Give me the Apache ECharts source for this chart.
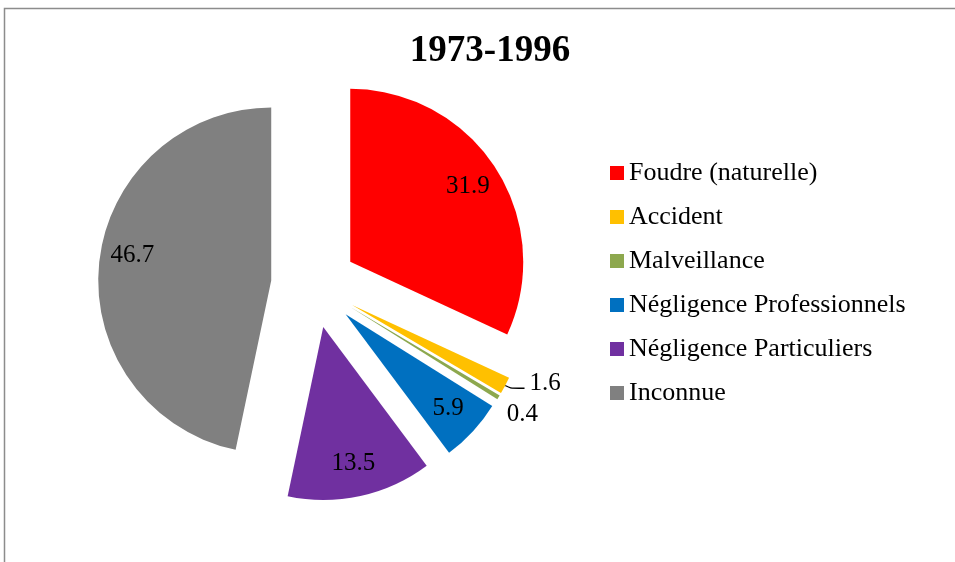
<!DOCTYPE html>
<html><head><meta charset="utf-8">
<script src="https://cdn.jsdelivr.net/npm/echarts@6/dist/echarts.min.js"></script>
<style>html,body{margin:0;padding:0;background:#fff}#c{width:955px;height:562px}</style>
</head><body><div id="c"></div>
<script>
const titleText = '1973-1996';
const categories = ['Foudre (naturelle)', 'Accident', 'Malveillance', 'Négligence Professionnels', 'Négligence Particuliers', 'Inconnue'];
const values = [31.9, 1.6, 0.4, 5.9, 13.5, 46.7];
const colors = ['#FF0000', '#FFC000', '#8DA84E', '#0070C0', '#7030A0', '#808080'];
const outsideLabel = [false, true, true, false, false, false];
const showLine = [false, true, false, false, false, false];

const font = 'Liberation Serif, Times New Roman, serif';
const chart = echarts.init(document.getElementById('c'), null, {renderer: 'canvas'});

const center = [314, 285];
const R = 173;
const offset = 43;

const mainData = categories.map((n, i) => ({
  name: n, value: values[i], selected: true,
  itemStyle: {color: colors[i]}
}));
const labelData = categories.map((n, i) => ({
  name: n, value: values[i], selected: true,
  itemStyle: {color: 'rgba(0,0,0,0)'},
  label: {position: outsideLabel[i] ? 'outside' : 'inside'},
  labelLine: {show: showLine[i], length: 6, length2: 14, smooth: 0.3, lineStyle: {color: '#000', width: 1.3}}
}));

chart.setOption({
  backgroundColor: '#fff',
  animation: false,
  title: {
    text: titleText, left: 485, top: 28, textAlign: 'center',
    textStyle: {fontFamily: font, fontSize: 37, fontWeight: 'bold', color: '#000'}
  },
  legend: {
    orient: 'vertical', left: 605, top: 155,
    data: categories,
    icon: 'rect', itemWidth: 14, itemHeight: 14, itemGap: 18,
    selectedMode: false,
    textStyle: {fontFamily: font, fontSize: 26, color: '#000'}
  },
  graphic: [{
    type: 'rect', silent: true,
    shape: {x: 4.5, y: 8.5, width: 1000, height: 700},
    style: {fill: 'none', stroke: '#8c8c8c', lineWidth: 1.5}
  }],
  series: [{
    type: 'pie', center: center, radius: [0, R],
    startAngle: 90, clockwise: true,
    selectedMode: 'multiple', selectedOffset: offset,
    select: {itemStyle: {}},
    emphasis: {disabled: true},
    label: {show: false}, labelLine: {show: false},
    silent: true,
    data: mainData
  }, {
    type: 'pie', center: center, radius: [100, R],
    startAngle: 90, clockwise: true,
    selectedMode: 'multiple', selectedOffset: offset,
    emphasis: {disabled: true},
    silent: true,
    avoidLabelOverlap: false,
    label: {show: true, fontFamily: font, fontSize: 25, color: '#000',
      formatter: p => p.value.toFixed(1)},
    labelLayout: function (p) {
      if (p.dataIndex === 1) return {dy: -5};
      if (p.dataIndex === 2) return {dy: 14, dx: -16};
      if (p.dataIndex === 5) return {dy: -11};
      return {};
    },
    data: labelData
  }]
});
</script></body></html>
